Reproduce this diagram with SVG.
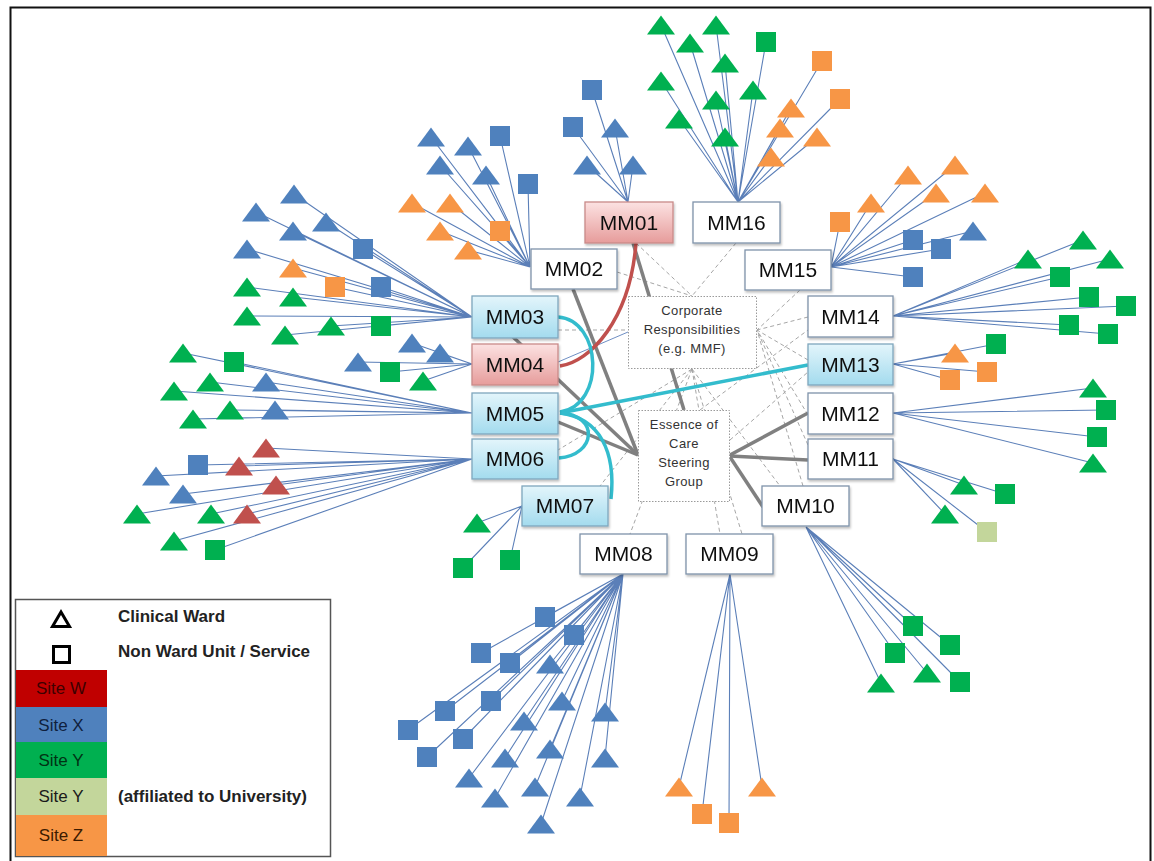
<svg xmlns="http://www.w3.org/2000/svg" xmlns:xlink="http://www.w3.org/1999/xlink" width="1154" height="861" viewBox="0 0 1154 861">
  <style>
    .b{fill:#4f81bd}
    .g{fill:#00b050}
    .o{fill:#f79646}
    .r{fill:#c0504d}
    .lg{fill:#c3d69b}
    .leafline{fill:none;stroke:#5b7fb8;stroke-width:1.1}
    .web{fill:none;stroke:#a6a6a6;stroke-width:1;stroke-dasharray:4 3}
    .thick{fill:none;stroke:#808080;stroke-width:3.5}
    .cyan{fill:none;stroke:#33bccd;stroke-width:3.5}
    .red{fill:none;stroke:#c0504d;stroke-width:3.5}
    .box{stroke-width:1.3}
    .white{fill:#ffffff;stroke:#7f93aa}
    .lblue{fill:url(#gBlue);stroke:#7fa7bd}
    .pink{fill:url(#gPink);stroke:#c98a89}
    .mmtext{font-family:"Liberation Sans",Arial,sans-serif;font-size:21px;fill:#111;text-anchor:middle}
    .hub{fill:#ffffff;stroke:#9a9a9a;stroke-width:1;stroke-dasharray:1.5 1.5}
    .hubtext{font-family:"Liberation Sans",Arial,sans-serif;font-size:13px;fill:#333;text-anchor:middle;letter-spacing:0.4px}
    .legtext{font-family:"Liberation Sans",Arial,sans-serif;font-size:17px;font-weight:bold;fill:#222}
    .sitetext{font-family:"Liberation Sans",Arial,sans-serif;font-size:17px;text-anchor:middle}
  </style>
  <defs>
    <path id="t" d="M0,-9.5L14,9.5L-14,9.5Z"/>
    <rect id="s" x="-10" y="-10" width="20" height="20"/>
    <linearGradient id="gBlue" x1="0" y1="0" x2="0" y2="1">
      <stop offset="0" stop-color="#e3f5fb"/>
      <stop offset="1" stop-color="#a3dbee"/>
    </linearGradient>
    <linearGradient id="gPink" x1="0" y1="0" x2="0" y2="1">
      <stop offset="0" stop-color="#fce2e2"/>
      <stop offset="1" stop-color="#e69c9b"/>
    </linearGradient>
    <filter id="shadow" x="-10%" y="-10%" width="130%" height="140%">
      <feDropShadow dx="1" dy="2" stdDeviation="1.2" flood-color="#000" flood-opacity="0.25"/>
    </filter>
  </defs>

  <rect x="0" y="0" width="1154" height="861" fill="#ffffff"/>
  <!-- frame -->
  <rect x="10.5" y="7.5" width="1140" height="858" fill="none" stroke="#111" stroke-width="2"/>

  <!-- connectors -->
  <g id="connectors">
    <!-- thin lines from units to their MM node -->
    <path class="leafline" d="M592 90L628 202M573 127L628 202M615 128L628 202M587 165L628 202M633 165L628 202"/>
    <path class="leafline" d="M661 25L738 202M716 25L738 202M690 43L738 202M766 42L738 202M725 63L738 202M822 61L738 202M661 81L738 202M716 100L738 202M753 90L738 202M840 99L738 202M791 108L738 202M679 119L738 202M780 128L738 202M817 137L738 202M725 137L738 202M771 157L738 202"/>
    <path class="leafline" d="M840 222L831 267M871 203L831 267M908 175L831 267M955 165L831 267M936 193L831 267M985 193L831 267M913 240L831 267M941 249L831 267M973 231L831 267M913 277L831 267"/>
    <path class="leafline" d="M1083 240L893 316M1028 259L893 316M1110 259L893 316M1060 277L893 316M1089 297L893 316M1126 306L893 316M1069 325L893 316M1108 334L893 316"/>
    <path class="leafline" d="M955 353L893 364M996 344L893 364M987 372L893 364M950 380L893 364"/>
    <path class="leafline" d="M1093 388L893 413M1106 410L893 413M1097 437L893 413M1093 463L893 413"/>
    <path class="leafline" d="M964 485L893 459M1005 494L893 459M945 514L893 459M987 532L893 459"/>
    <path class="leafline" d="M913 626L806 527M950 645L806 527M895 653L806 527M927 673L806 527M960 682L806 527M881 683L806 527"/>
    <path class="leafline" d="M679 787L730 574M702 814L730 574M729 823L730 574M762 787L730 574"/>
    <path class="leafline" d="M545 617L623 574M574 635L623 574M481 653L623 574M510 663L623 574M550 664L623 574M491 701L623 574M562 701L623 574M445 711L623 574M524 721L623 574M408 730L623 574M463 739L623 574M550 749L623 574M427 757L623 574M505 758L623 574M469 778L623 574M535 787L623 574M495 798L623 574M541 824L623 574M580 797L623 574M605 712L623 574M605 758L623 574"/>
    <path class="leafline" d="M477 523L522 506M510 560L522 506M463 568L522 506"/>
    <path class="leafline" d="M266 448L472 459M198 465L472 459M239 466L472 459M156 476L472 459M276 485L472 459M183 494L472 459M137 514L472 459M211 514L472 459M247 514L472 459M174 541L472 459M215 550L472 459"/>
    <path class="leafline" d="M183 353L472 413M234 362L472 413M210 382L472 413M266 382L472 413M174 391L472 413M230 410L472 413M275 410L472 413M193 419L472 413"/>
    <path class="leafline" d="M412 343L472 364M440 353L472 364M358 362L472 364M390 372L472 364M423 381L472 364"/>
    <path class="leafline" d="M294 194L472 317M256 212L472 317M326 222L472 317M293 231L472 317M247 249L472 317M363 249L472 317M381 287L472 317M293 268L472 317M335 287L472 317M247 287L472 317M293 297L472 317M247 316L472 317M285 335L472 317M331 326L472 317M381 326L472 317"/>
    <path class="leafline" d="M431 137L530 267M468 146L530 267M500 136L530 267M440 165L530 267M486 175L530 267M528 184L530 267M412 203L530 267M450 203L530 267M500 231L530 267M440 231L530 267M468 250L530 267"/>

    <!-- dashed web between the two central groups and the MM nodes -->
    <path class="web" d="M617 272L692 296M636 243L692 296M736 243L692 296M800 290L757 330M808 317L757 330M808 360L757 330M808 415L757 330M808 445L757 330M803 486L757 330M558 330L628 330M692 369L630 534M692 369L720 534M692 369L742 534M692 369L780 486M692 369L600 486M692 369L558 450M700 410L808 330M730 440L808 372"/>
    <path fill="none" stroke="#6f8fc4" stroke-width="1" d="M558 362L628 332"/>

    <!-- main links -->
    <path class="thick" d="M633 243L684 410"/>
    <path class="thick" d="M573 289L638 455"/>
    <path class="thick" d="M512 336L638 455"/>
    <path class="thick" d="M558 422L638 455"/>
    <path class="thick" d="M730 455L808 413"/>
    <path class="thick" d="M730 456L808 460"/>
    <path class="thick" d="M730 457L763 507"/>

    <path class="red" d="M636 243C630 320 590 362 560 366"/>

    <path class="cyan" d="M558 317C602 320 606 405 560 412"/>
    <path class="cyan" d="M560 413L808 365"/>
    <path class="cyan" d="M560 413C600 418 616 452 611 499"/>
    <path class="cyan" d="M560 413C600 415 596 455 559 458"/>
  </g>

  <!-- central groups -->
  <g id="corporate">
    <rect class="hub" x="628.5" y="296.5" width="128" height="72"/>
    <text class="hubtext" x="692" y="315">Corporate</text>
    <text class="hubtext" x="692" y="334">Responsibilities</text>
    <text class="hubtext" x="692" y="353">(e.g. MMF)</text>
  </g>
  <g id="essence">
    <rect class="hub" x="638.5" y="410.5" width="91" height="91"/>
    <text class="hubtext" x="684" y="429">Essence of</text>
    <text class="hubtext" x="684" y="448">Care</text>
    <text class="hubtext" x="684" y="467">Steering</text>
    <text class="hubtext" x="684" y="486">Group</text>
  </g>

  <!-- MM nodes -->
  <g id="mm01" filter="url(#shadow)"><rect class="box pink" x="585" y="202" width="88" height="41"/><text class="mmtext" x="629" y="230">MM01</text></g>
  <g id="mm02" filter="url(#shadow)"><rect class="box white" x="531" y="249" width="86" height="40"/><text class="mmtext" x="574" y="276">MM02</text></g>
  <g id="mm03" filter="url(#shadow)"><rect class="box lblue" x="472" y="296" width="86" height="42"/><text class="mmtext" x="515" y="324">MM03</text></g>
  <g id="mm04" filter="url(#shadow)"><rect class="box pink" x="472" y="344" width="86" height="41"/><text class="mmtext" x="515" y="372">MM04</text></g>
  <g id="mm05" filter="url(#shadow)"><rect class="box lblue" x="472" y="393" width="86" height="41"/><text class="mmtext" x="515" y="421">MM05</text></g>
  <g id="mm06" filter="url(#shadow)"><rect class="box lblue" x="472" y="439" width="86" height="40"/><text class="mmtext" x="515" y="466">MM06</text></g>
  <g id="mm07" filter="url(#shadow)"><rect class="box lblue" x="522" y="486" width="86" height="40"/><text class="mmtext" x="565" y="513">MM07</text></g>
  <g id="mm08" filter="url(#shadow)"><rect class="box white" x="580" y="534" width="87" height="40"/><text class="mmtext" x="623.5" y="561">MM08</text></g>
  <g id="mm09" filter="url(#shadow)"><rect class="box white" x="686" y="534" width="87" height="40"/><text class="mmtext" x="729.5" y="561">MM09</text></g>
  <g id="mm10" filter="url(#shadow)"><rect class="box white" x="762" y="486" width="87" height="40"/><text class="mmtext" x="805.5" y="513">MM10</text></g>
  <g id="mm11" filter="url(#shadow)"><rect class="box white" x="808" y="439" width="85" height="40"/><text class="mmtext" x="850.5" y="466">MM11</text></g>
  <g id="mm12" filter="url(#shadow)"><rect class="box white" x="808" y="393" width="85" height="41"/><text class="mmtext" x="850.5" y="421">MM12</text></g>
  <g id="mm13" filter="url(#shadow)"><rect class="box lblue" x="808" y="344" width="85" height="41"/><text class="mmtext" x="850.5" y="372">MM13</text></g>
  <g id="mm14" filter="url(#shadow)"><rect class="box white" x="808" y="296" width="85" height="41"/><text class="mmtext" x="850.5" y="324">MM14</text></g>
  <g id="mm15" filter="url(#shadow)"><rect class="box white" x="745" y="250" width="86" height="40"/><text class="mmtext" x="788" y="277">MM15</text></g>
  <g id="mm16" filter="url(#shadow)"><rect class="box white" x="693" y="202" width="87" height="41"/><text class="mmtext" x="736.5" y="230">MM16</text></g>

  <!-- units: triangles = clinical wards, squares = non ward units -->
  <g id="mm01-units">
    <use href="#s" x="592" y="90" class="b"/><use href="#s" x="573" y="127" class="b"/>
    <use href="#t" x="615" y="128" class="b"/><use href="#t" x="587" y="165" class="b"/><use href="#t" x="633" y="165" class="b"/>
  </g>
  <g id="mm16-units">
    <use href="#t" x="661" y="25" class="g"/><use href="#t" x="716" y="25" class="g"/><use href="#t" x="690" y="43" class="g"/>
    <use href="#s" x="766" y="42" class="g"/><use href="#t" x="725" y="63" class="g"/><use href="#s" x="822" y="61" class="o"/>
    <use href="#t" x="661" y="81" class="g"/><use href="#t" x="716" y="100" class="g"/><use href="#t" x="753" y="90" class="g"/>
    <use href="#s" x="840" y="99" class="o"/><use href="#t" x="791" y="108" class="o"/><use href="#t" x="679" y="119" class="g"/>
    <use href="#t" x="780" y="128" class="o"/><use href="#t" x="817" y="137" class="o"/><use href="#t" x="725" y="137" class="g"/>
    <use href="#t" x="771" y="157" class="o"/>
  </g>
  <g id="mm15-units">
    <use href="#s" x="840" y="222" class="o"/><use href="#t" x="871" y="203" class="o"/><use href="#t" x="908" y="175" class="o"/>
    <use href="#t" x="955" y="165" class="o"/><use href="#t" x="936" y="193" class="o"/><use href="#t" x="985" y="193" class="o"/>
    <use href="#s" x="913" y="240" class="b"/><use href="#s" x="941" y="249" class="b"/><use href="#t" x="973" y="231" class="b"/>
    <use href="#s" x="913" y="277" class="b"/>
  </g>
  <g id="mm14-units">
    <use href="#t" x="1083" y="240" class="g"/><use href="#t" x="1028" y="259" class="g"/><use href="#t" x="1110" y="259" class="g"/>
    <use href="#s" x="1060" y="277" class="g"/><use href="#s" x="1089" y="297" class="g"/><use href="#s" x="1126" y="306" class="g"/>
    <use href="#s" x="1069" y="325" class="g"/><use href="#s" x="1108" y="334" class="g"/>
  </g>
  <g id="mm13-units">
    <use href="#t" x="955" y="353" class="o"/><use href="#s" x="996" y="344" class="g"/>
    <use href="#s" x="987" y="372" class="o"/><use href="#s" x="950" y="380" class="o"/>
  </g>
  <g id="mm12-units">
    <use href="#t" x="1093" y="388" class="g"/><use href="#s" x="1106" y="410" class="g"/>
    <use href="#s" x="1097" y="437" class="g"/><use href="#t" x="1093" y="463" class="g"/>
  </g>
  <g id="mm11-units">
    <use href="#t" x="964" y="485" class="g"/><use href="#s" x="1005" y="494" class="g"/>
    <use href="#t" x="945" y="514" class="g"/><use href="#s" x="987" y="532" class="lg"/>
  </g>
  <g id="mm10-units">
    <use href="#s" x="913" y="626" class="g"/><use href="#s" x="950" y="645" class="g"/><use href="#s" x="895" y="653" class="g"/>
    <use href="#t" x="927" y="673" class="g"/><use href="#s" x="960" y="682" class="g"/><use href="#t" x="881" y="683" class="g"/>
  </g>
  <g id="mm09-units">
    <use href="#t" x="679" y="787" class="o"/><use href="#s" x="702" y="814" class="o"/>
    <use href="#s" x="729" y="823" class="o"/><use href="#t" x="762" y="787" class="o"/>
  </g>
  <g id="mm08-units">
    <use href="#s" x="545" y="617" class="b"/><use href="#s" x="574" y="635" class="b"/><use href="#s" x="481" y="653" class="b"/>
    <use href="#s" x="510" y="663" class="b"/><use href="#t" x="550" y="664" class="b"/><use href="#s" x="491" y="701" class="b"/>
    <use href="#t" x="562" y="701" class="b"/><use href="#s" x="445" y="711" class="b"/><use href="#t" x="524" y="721" class="b"/>
    <use href="#s" x="408" y="730" class="b"/><use href="#s" x="463" y="739" class="b"/><use href="#t" x="550" y="749" class="b"/>
    <use href="#s" x="427" y="757" class="b"/><use href="#t" x="505" y="758" class="b"/><use href="#t" x="469" y="778" class="b"/>
    <use href="#t" x="535" y="787" class="b"/><use href="#t" x="495" y="798" class="b"/><use href="#t" x="541" y="824" class="b"/>
    <use href="#t" x="580" y="797" class="b"/><use href="#t" x="605" y="712" class="b"/><use href="#t" x="605" y="758" class="b"/>
  </g>
  <g id="mm07-units">
    <use href="#t" x="477" y="523" class="g"/><use href="#s" x="510" y="560" class="g"/><use href="#s" x="463" y="568" class="g"/>
  </g>
  <g id="mm06-units">
    <use href="#t" x="266" y="448" class="r"/><use href="#s" x="198" y="465" class="b"/><use href="#t" x="239" y="466" class="r"/>
    <use href="#t" x="156" y="476" class="b"/><use href="#t" x="276" y="485" class="r"/><use href="#t" x="183" y="494" class="b"/>
    <use href="#t" x="137" y="514" class="g"/><use href="#t" x="211" y="514" class="g"/><use href="#t" x="247" y="514" class="r"/>
    <use href="#t" x="174" y="541" class="g"/><use href="#s" x="215" y="550" class="g"/>
  </g>
  <g id="mm05-units">
    <use href="#t" x="183" y="353" class="g"/><use href="#s" x="234" y="362" class="g"/><use href="#t" x="210" y="382" class="g"/>
    <use href="#t" x="266" y="382" class="b"/><use href="#t" x="174" y="391" class="g"/><use href="#t" x="230" y="410" class="g"/>
    <use href="#t" x="275" y="410" class="b"/><use href="#t" x="193" y="419" class="g"/>
  </g>
  <g id="mm04-units">
    <use href="#t" x="412" y="343" class="b"/><use href="#t" x="440" y="353" class="b"/><use href="#t" x="358" y="362" class="b"/>
    <use href="#s" x="390" y="372" class="g"/><use href="#t" x="423" y="381" class="g"/>
  </g>
  <g id="mm03-units">
    <use href="#t" x="294" y="194" class="b"/><use href="#t" x="256" y="212" class="b"/><use href="#t" x="326" y="222" class="b"/>
    <use href="#t" x="293" y="231" class="b"/><use href="#t" x="247" y="249" class="b"/><use href="#s" x="363" y="249" class="b"/>
    <use href="#s" x="381" y="287" class="b"/><use href="#t" x="293" y="268" class="o"/><use href="#s" x="335" y="287" class="o"/>
    <use href="#t" x="247" y="287" class="g"/><use href="#t" x="293" y="297" class="g"/><use href="#t" x="247" y="316" class="g"/>
    <use href="#t" x="285" y="335" class="g"/><use href="#t" x="331" y="326" class="g"/><use href="#s" x="381" y="326" class="g"/>
  </g>
  <g id="mm02-units">
    <use href="#t" x="431" y="137" class="b"/><use href="#t" x="468" y="146" class="b"/><use href="#s" x="500" y="136" class="b"/>
    <use href="#t" x="440" y="165" class="b"/><use href="#t" x="486" y="175" class="b"/><use href="#s" x="528" y="184" class="b"/>
    <use href="#t" x="412" y="203" class="o"/><use href="#t" x="450" y="203" class="o"/><use href="#s" x="500" y="231" class="o"/>
    <use href="#t" x="440" y="231" class="o"/><use href="#t" x="468" y="250" class="o"/>
  </g>

  <!-- legend -->
  <g id="legend">
    <rect x="15.5" y="599.5" width="315" height="257" fill="#ffffff" stroke="#555" stroke-width="1.5"/>
    <path d="M61 612L69.5 626.5L52.5 626.5Z" fill="none" stroke="#000" stroke-width="3" stroke-linejoin="miter"/>
    <rect x="53.5" y="646.5" width="16" height="16" fill="none" stroke="#000" stroke-width="3"/>
    <text class="legtext" x="118" y="622">Clinical Ward</text>
    <text class="legtext" x="118" y="657">Non Ward Unit / Service</text>
    <rect x="16" y="670" width="91" height="37" fill="#c00000"/>
    <rect x="16" y="707" width="91" height="35" fill="#4f81bd"/>
    <rect x="16" y="742" width="91" height="36" fill="#00b050"/>
    <rect x="16" y="778" width="91" height="37" fill="#c3d69b"/>
    <rect x="16" y="815" width="91" height="41" fill="#f79646"/>
    <text class="sitetext" x="61" y="694" fill="#3d0000">Site W</text>
    <text class="sitetext" x="61" y="731" fill="#0f1f3d">Site X</text>
    <text class="sitetext" x="61" y="766" fill="#003314">Site Y</text>
    <text class="sitetext" x="61" y="802" fill="#1a1a1a">Site Y</text>
    <text class="sitetext" x="61" y="841" fill="#3b1a00">Site Z</text>
    <text class="legtext" x="118" y="802">(affiliated to University)</text>
  </g>
</svg>
